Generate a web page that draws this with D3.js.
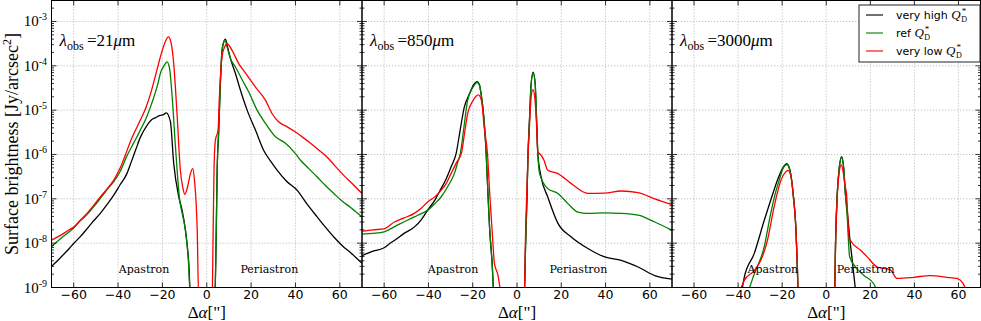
<!DOCTYPE html>
<html><head><meta charset="utf-8">
<script src="https://cdn.jsdelivr.net/npm/d3@7"></script>
<style>body{margin:0;background:#fff}svg{display:block}</style>
</head><body>
<svg id="c" width="981" height="321"></svg>
<script>
// ---------- data ----------
const panelLabels = ["21", "850", "3000"];
const xTicks = [-60, -40, -20, 0, 20, 40, 60];
const yTickExps = [-9, -8, -7, -6, -5, -4, -3];
const seriesNames = ["very high", "ref", "very low"];
const seriesColors = ["#000000", "#008000", "#ff0000"];
const apastronX = [-39.7, -40.3, -35.7];
const periastronX = [15.2, 14.7, 4.8];

// lambda = 21 micron
const p21High = [[-70,3.0e-9],[-66,4.7e-9],[-62,7.6e-9],[-60,9.8e-9],[-57,1.4e-8],[-54,2.1e-8],[-51,3.2e-8],[-48,4.7e-8],[-45,7.4e-8],[-42,1.2e-7],[-39,2.1e-7],[-36,3.7e-7],[-34,6.9e-7],[-32,1.29e-6],[-30,2.4e-6],[-27,4.5e-6],[-25,6.0e-6],[-23,6.8e-6],[-21,7.6e-6],[-19.5,7.9e-6],[-18.3,8.7e-6],[-16.4,5.6e-6],[-14.9,6.3e-7],[-12.6,1.1e-7],[-11.1,5.5e-8],[-9.6,1.95e-8],[-8.1,3.5e-9],[-7.2,5e-10],[3.6,5e-10],[4.2,1e-8],[4.7,4.4e-7],[5.4,3.5e-6],[6.2,4.8e-5],[6.9,2.2e-4],[7.7,3.5e-4],[8.4,4.0e-4],[9.5,2.5e-4],[10.7,1.45e-4],[12.9,6.8e-5],[15.2,2.8e-5],[18.2,1.0e-5],[22,3.5e-6],[25.7,1.23e-6],[29.5,6.3e-7],[31.8,4.4e-7],[36,2.5e-7],[40.8,1.55e-7],[45,7.9e-8],[49.8,3.9e-8],[53.5,2.3e-8],[57.3,1.38e-8],[61,8.9e-9],[65,6.0e-9],[70,3.5e-9]];
const p21Ref = [[-70,8.3e-9],[-66,1.26e-8],[-62,1.8e-8],[-60,2.2e-8],[-57,3.2e-8],[-54,4.4e-8],[-51,6.6e-8],[-48,1.02e-7],[-45,1.6e-7],[-42,2.4e-7],[-39,4.2e-7],[-36,9.3e-7],[-33,1.8e-6],[-30,3.5e-6],[-27.5,6.3e-6],[-25.4,1.17e-5],[-22,4.0e-5],[-20.9,6.8e-5],[-19,1.05e-4],[-17.9,1.23e-4],[-16.8,8.9e-5],[-15.6,2.0e-5],[-14.1,1.48e-6],[-12.2,9.3e-8],[-11,4.5e-8],[-9.6,1.95e-8],[-8.4,5.0e-9],[-7.2,5e-10],[3.6,5e-10],[4.2,1e-8],[4.7,4.4e-7],[5.4,3.5e-6],[6.2,4.8e-5],[6.9,2.2e-4],[7.7,3.5e-4],[8.2,3.8e-4],[9.3,2.5e-4],[10.7,1.45e-4],[12.9,9.5e-5],[16,4.8e-5],[18.9,2.6e-5],[22.7,1.0e-5],[26.5,5.0e-6],[31,2.5e-6],[35.5,1.8e-6],[40,1.05e-6],[42.3,7.4e-7],[46,4.8e-7],[49.8,3.1e-7],[53.5,2.0e-7],[57.3,1.32e-7],[61,8.9e-8],[65,6.3e-8],[70,3.9e-8]];
const p21Low = [[-70,1.17e-8],[-66,1.5e-8],[-62,2.0e-8],[-60,2.3e-8],[-57,3.3e-8],[-54,4.7e-8],[-51,7.1e-8],[-48,1.1e-7],[-45,1.66e-7],[-42,2.6e-7],[-39,5.0e-7],[-37,8.9e-7],[-34,2.2e-6],[-30,5.9e-6],[-27.5,1.12e-5],[-25.4,2.3e-5],[-22.5,7.9e-5],[-20.9,1.6e-4],[-19,3.2e-4],[-17.3,4.5e-4],[-16.2,3.5e-4],[-14.9,1.12e-4],[-13.4,8.3e-6],[-11.9,4.4e-7],[-10.8,1.8e-7],[-9.9,1.26e-7],[-8.5,2.0e-7],[-7.3,3.8e-7],[-6.3,4.8e-7],[-5.5,2.5e-7],[-4.3,1.95e-8],[-3.6,5e-10],[2.4,5e-10],[2.9,2.0e-8],[3.3,5.0e-7],[3.9,2.1e-6],[5.1,3.5e-6],[5.7,2.0e-5],[6.9,1.6e-4],[8.1,2.7e-4],[9.2,3.1e-4],[11.5,2.2e-4],[14.4,1.12e-4],[17.5,6.8e-5],[22,3.3e-5],[26.5,1.66e-5],[29.5,8.3e-6],[32.5,5.4e-6],[36.3,4.2e-6],[40,3.2e-6],[43.5,2.4e-6],[46.8,1.8e-6],[50.5,1.26e-6],[54.3,8.7e-7],[58,5.4e-7],[62,3.3e-7],[66,2.1e-7],[70,1.32e-7]];

// lambda = 850 micron
const p850High = [[-70,5.2e-9],[-65,6.6e-9],[-60,7.9e-9],[-57,1.02e-8],[-55.4,1.15e-8],[-51,1.66e-8],[-46.4,2.3e-8],[-43,3.5e-8],[-40.4,5.5e-8],[-37,9.5e-8],[-34.3,1.7e-7],[-32,2.8e-7],[-29.8,5.2e-7],[-27.5,1.05e-6],[-25.5,4.0e-6],[-23.8,1.17e-5],[-21.5,2.3e-5],[-19.5,3.8e-5],[-18,4.4e-5],[-17,3.8e-5],[-16.2,2.3e-5],[-15,7.1e-6],[-13.9,1.0e-6],[-13.2,1.6e-7],[-12.4,2.3e-8],[-11.3,4.0e-9],[-10.2,5e-10],[3.2,5e-10],[3.9,1e-8],[4.5,1e-7],[4.9,7.4e-7],[5.7,7.1e-6],[6.4,4.0e-5],[7.3,7.2e-5],[8.2,4.0e-5],[8.8,7.1e-6],[9.4,1.05e-6],[10.9,3.1e-7],[13.9,1.1e-7],[18.5,2.8e-8],[24.5,1.38e-8],[32,7.6e-9],[39.6,4.9e-9],[47.1,4.1e-9],[54.7,2.9e-9],[62.2,1.86e-9],[70,1.55e-9]];
const p850Ref = [[-70,1.6e-8],[-65,1.66e-8],[-60,1.8e-8],[-55,2.4e-8],[-50,3.2e-8],[-46.4,3.9e-8],[-43,4.7e-8],[-40.4,5.5e-8],[-37,7.9e-8],[-34.3,1.1e-7],[-31,2.0e-7],[-28.3,3.7e-7],[-26.5,7.4e-7],[-25.6,1.05e-6],[-24,4.0e-6],[-22.3,1.66e-5],[-20,3.2e-5],[-18,4.2e-5],[-17,3.7e-5],[-16.2,2.3e-5],[-15,7.1e-6],[-13.9,1.0e-6],[-13.2,1.6e-7],[-12.4,2.3e-8],[-11.3,4.0e-9],[-10.2,5e-10],[3.2,5e-10],[3.9,1e-8],[4.5,1e-7],[4.9,7.4e-7],[5.7,7.1e-6],[6.4,4.0e-5],[7.3,6.9e-5],[8.2,4.0e-5],[8.8,7.1e-6],[9.4,1.05e-6],[10.2,3.7e-7],[13.9,1.7e-7],[18.5,1.32e-7],[23,7.8e-8],[27.5,5.0e-8],[32,4.7e-8],[39.6,4.8e-8],[47.1,4.7e-8],[54.7,4.3e-8],[62.2,3.0e-8],[70,1.95e-8]];
const p850Low = [[-70,1.86e-8],[-65,2.0e-8],[-60,2.1e-8],[-55.4,3.0e-8],[-51,3.7e-8],[-46.4,4.7e-8],[-43,6.3e-8],[-40.4,8.5e-8],[-37,1.12e-7],[-34.3,1.55e-7],[-32,2.2e-7],[-29.8,3.7e-7],[-27.5,6.3e-7],[-25,1.12e-6],[-23.5,3.5e-6],[-22.3,8.3e-6],[-20,1.6e-5],[-17.4,2.2e-5],[-16,1.6e-5],[-14.8,4.0e-6],[-13.3,1.0e-6],[-12.3,1.26e-7],[-11,1.26e-8],[-10.2,3.5e-9],[-8.7,2.0e-9],[-6.4,5e-10],[3.2,5e-10],[4.0,3.2e-8],[4.9,7.4e-7],[5.7,5.0e-6],[6.4,2.0e-5],[7.2,2.9e-5],[8.0,2.0e-5],[8.8,5.0e-6],[9.4,1.12e-6],[10.2,1.05e-6],[12.1,7.6e-7],[13.9,4.4e-7],[18.5,3.7e-7],[24.5,2.2e-7],[32,1.32e-7],[39.6,1.35e-7],[47.1,1.5e-7],[54.7,1.38e-7],[62.2,1.0e-7],[70,7.4e-8]];

// lambda = 3000 micron
const p3000High = [[-39,5e-10],[-37.2,1.7e-9],[-32.7,5.8e-9],[-28.2,3.2e-8],[-25,1.0e-7],[-22.2,2.6e-7],[-19.5,5.2e-7],[-17.9,6.2e-7],[-16.5,4.5e-7],[-15,1.26e-7],[-13.8,2.3e-8],[-13.2,4.0e-9],[-12.6,5e-10],[3.7,5e-10],[4.3,1.6e-8],[5.0,1.32e-7],[5.9,5.0e-7],[7.0,8.9e-7],[7.9,5.0e-7],[8.7,1.26e-7],[9.5,5.5e-8],[10.7,1.26e-8],[11.8,4.1e-9],[13.8,5e-10]];
const p3000Ref = [[-36.8,5e-10],[-32.7,2.0e-9],[-28.2,8.1e-9],[-25.2,4.7e-8],[-23,1.4e-7],[-21.4,2.6e-7],[-19.5,5.0e-7],[-17.9,5.9e-7],[-16.5,4.4e-7],[-15,1.26e-7],[-13.8,2.3e-8],[-13.2,4.0e-9],[-12.6,5e-10],[3.7,5e-10],[4.3,1.6e-8],[5.0,1.32e-7],[5.9,5.0e-7],[7.0,8.5e-7],[7.9,5.0e-7],[8.7,1.26e-7],[9.5,4.0e-8],[10.6,5.0e-9],[13.3,2.9e-9],[17.1,1.86e-9],[21.6,1.2e-9],[24.6,5e-10]];
const p3000Low = [[-40.6,5e-10],[-37.2,1.45e-9],[-32.7,2.4e-9],[-29.7,4.1e-9],[-26.7,1.15e-8],[-23.7,6.5e-8],[-20.6,2.6e-7],[-18.5,4.0e-7],[-17.3,4.4e-7],[-16,3.2e-7],[-14.8,1.0e-7],[-13.8,2.3e-8],[-13.2,4.0e-9],[-12.6,5e-10],[3.7,5e-10],[4.3,1.26e-8],[5.0,1.12e-7],[5.9,4.0e-7],[6.8,5.8e-7],[7.7,4.0e-7],[8.5,2.0e-7],[9.2,1.32e-7],[10.3,1.38e-8],[11,1.15e-8],[15.6,6.9e-9],[18.6,4.9e-9],[23.1,2.9e-9],[29.1,2.5e-9],[32.1,1.6e-9],[39.7,1.7e-9],[47.2,1.86e-9],[54.8,1.7e-9],[59.3,1.6e-9],[62,1.26e-9],[65.3,5e-10]];

const panelSeries = [
  [p21High, p21Ref, p21Low],
  [p850High, p850Ref, p850Low],
  [p3000High, p3000Ref, p3000Low]
];

// ---------- layout ----------
const svg = d3.select("#c");
const panelEdges = [[51.5, 362], [362, 672], [672, 980.5]];
const plotTop = 0.5, plotBottom = 287.5;
const y = d3.scaleLog().domain([1e-9, 2.97e-3]).range([plotBottom, plotTop]);
const serif = "'Liberation Serif', 'DejaVu Serif', serif";
const sans = "'DejaVu Sans', sans-serif";

const minorVals = [];
for (let e = -9; e <= -3; e++) for (let k = 2; k <= 9; k++) { const v = k * Math.pow(10, e); if (v < 2.97e-3) minorVals.push(v); }

panelSeries.forEach((series, pi) => {
  const [x0, x1] = panelEdges[pi];
  const x = d3.scaleLinear().domain([-70, 70]).range([x0, x1]);
  const g = svg.append("g");

  // grid
  g.selectAll(".gx").data(xTicks).enter().append("line")
    .attr("x1", d => x(d)).attr("x2", d => x(d)).attr("y1", plotTop).attr("y2", plotBottom)
    .attr("stroke", "#b0b0b0").attr("stroke-width", 0.8).attr("stroke-dasharray", "1.2,1.8");
  g.selectAll(".gy").data(yTickExps.map(e => Math.pow(10, e))).enter().append("line")
    .attr("x1", x0).attr("x2", x1).attr("y1", d => y(d)).attr("y2", d => y(d))
    .attr("stroke", "#b0b0b0").attr("stroke-width", 0.8).attr("stroke-dasharray", "1.2,1.8");

  // clip
  const cid = "clip" + pi;
  svg.append("clipPath").attr("id", cid).append("rect")
    .attr("x", x0).attr("y", plotTop).attr("width", x1 - x0).attr("height", plotBottom - plotTop);

  const line = d3.line().x(d => x(d[0])).y(d => y(d[1])).curve(d3.curveMonotoneX);
  const lg = g.append("g").attr("clip-path", `url(#${cid})`);
  series.forEach((s, si) => {
    lg.append("path").datum(s).attr("d", line).attr("fill", "none")
      .attr("stroke", seriesColors[si]).attr("stroke-width", 1.3).attr("stroke-linejoin", "round");
  });

  // ticks (inward)
  const tk = g.append("g").attr("stroke", "#000").attr("stroke-width", 0.8);
  xTicks.forEach(t => {
    tk.append("line").attr("x1", x(t)).attr("x2", x(t)).attr("y1", plotBottom).attr("y2", plotBottom - 5);
    tk.append("line").attr("x1", x(t)).attr("x2", x(t)).attr("y1", plotTop).attr("y2", plotTop + 5);
  });
  yTickExps.forEach(e => {
    const yy = y(Math.pow(10, e));
    tk.append("line").attr("x1", x0).attr("x2", x0 + 5).attr("y1", yy).attr("y2", yy);
    tk.append("line").attr("x1", x1).attr("x2", x1 - 5).attr("y1", yy).attr("y2", yy);
  });
  minorVals.forEach(v => {
    const yy = y(v);
    tk.append("line").attr("x1", x0).attr("x2", x0 + 2.5).attr("y1", yy).attr("y2", yy);
    tk.append("line").attr("x1", x1).attr("x2", x1 - 2.5).attr("y1", yy).attr("y2", yy);
  });

  // frame
  g.append("rect").attr("x", x0).attr("y", plotTop).attr("width", x1 - x0).attr("height", plotBottom - plotTop)
    .attr("fill", "none").attr("stroke", "#000").attr("stroke-width", 1);

  // x tick labels
  g.selectAll(".xl").data(xTicks).enter().append("text")
    .attr("x", d => x(d)).attr("y", 299).attr("text-anchor", "middle")
    .attr("font-family", sans).attr("font-size", 12.5).attr("fill", "#000")
    .text(d => d < 0 ? "\u2212" + Math.abs(d) : d);

  // x label
  const xl = g.append("text").attr("x", x(0)).attr("y", 318).attr("text-anchor", "middle")
    .attr("font-family", serif).attr("font-size", 17).attr("fill", "#000");
  xl.append("tspan").text("\u0394");
  xl.append("tspan").attr("font-style", "italic").text("\u03b1");
  xl.append("tspan").text("[\"]");

  // panel label
  const pl = g.append("text").attr("x", x0 + 8).attr("y", 46)
    .attr("font-family", serif).attr("font-size", 17).attr("fill", "#000");
  pl.append("tspan").attr("font-style", "italic").text("\u03bb");
  pl.append("tspan").attr("font-size", 12).attr("dy", 4).text("obs");
  pl.append("tspan").attr("dy", -4).text("\u2009=" + panelLabels[pi]);
  pl.append("tspan").attr("font-style", "italic").text("\u03bc");
  pl.append("tspan").text("m");

  // apastron / periastron
  g.append("text").attr("x", x(apastronX[pi])).attr("y", 273)
    .attr("font-family", "'DejaVu Serif', serif").attr("font-size", 11).attr("fill", "#000").text("Apastron");
  g.append("text").attr("x", x(periastronX[pi])).attr("y", 273)
    .attr("font-family", "'DejaVu Serif', serif").attr("font-size", 11).attr("fill", "#000").text("Periastron");
});

// y tick labels
yTickExps.forEach(e => {
  const t = svg.append("text").attr("x", 47).attr("y", y(Math.pow(10, e)) + 5)
    .attr("text-anchor", "end").attr("font-family", serif).attr("font-size", 15).attr("fill", "#000");
  t.append("tspan").text("10");
  t.append("tspan").attr("font-size", 10).attr("dy", -6).text(String(e));
});

// y label
const yl = svg.append("text").attr("transform", "translate(18,144) rotate(-90)")
  .attr("text-anchor", "middle").attr("font-family", serif).attr("font-size", 18).attr("fill", "#000");
yl.append("tspan").text("Surface brightness [Jy/arcsec");
yl.append("tspan").attr("font-size", 12).attr("dy", -7).text("2");
yl.append("tspan").attr("dy", 7).text("]");

// legend
const lgx = 859, lgy = 5;
svg.append("rect").attr("x", lgx).attr("y", lgy).attr("width", 121).attr("height", 57)
  .attr("fill", "#fff").attr("stroke", "#222").attr("stroke-width", 1);
seriesNames.forEach((n, i) => {
  const ly = 15 + i * 18;
  svg.append("line").attr("x1", 866).attr("x2", 883).attr("y1", ly).attr("y2", ly)
    .attr("stroke", seriesColors[i]).attr("stroke-width", 1.6).attr("stroke-opacity", 0.7);
  const t = svg.append("text").attr("x", 896).attr("y", ly + 4)
    .attr("font-family", sans).attr("font-size", 11).attr("fill", "#000");
  t.append("tspan").text(n + " ");
  t.append("tspan").attr("font-family", serif).attr("font-style", "italic").attr("font-size", 13).text("Q");
  const w = t.node().getComputedTextLength();
  svg.append("text").attr("x", 896 + w + 0.5).attr("y", ly + 7).attr("font-family", serif)
    .attr("font-size", 8).attr("fill", "#000").text("D");
  svg.append("text").attr("x", 896 + w + 1).attr("y", ly - 1).attr("font-family", serif)
    .attr("font-size", 9).attr("fill", "#000").text("*");
});
</script>
</body></html>
